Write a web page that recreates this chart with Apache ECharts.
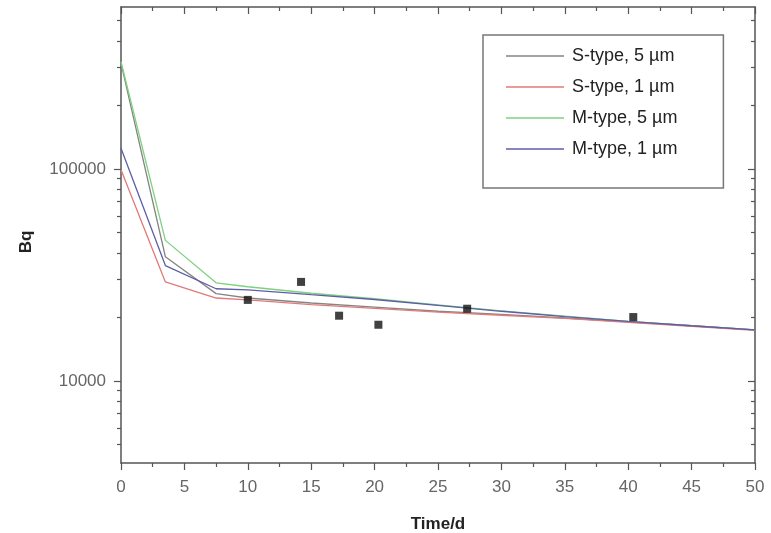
<!DOCTYPE html>
<html>
<head>
<meta charset="utf-8">
<script src="https://cdn.jsdelivr.net/npm/echarts@6/dist/echarts.min.js"></script>
<style>html,body{margin:0;padding:0;background:#fff}#c{width:771px;height:533px}</style>
</head>
<body>
<div id="c"></div>
<script>
const days = [0, 3.5, 7.5, 10, 15, 20, 25, 30, 35, 40, 45, 50];
const sType5 = [315000, 38500, 25800, 24600, 23300, 22300, 21300, 20600, 19800, 19000, 18200, 17400];
const sType1 = [99000, 29300, 24600, 24100, 22900, 22000, 21100, 20400, 19700, 18900, 18100, 17300];
const mType5 = [320000, 46000, 29000, 27800, 25900, 24400, 22800, 21400, 20200, 19100, 18200, 17400];
const mType1 = [125000, 35000, 27200, 26900, 25500, 24200, 22700, 21300, 20100, 19100, 18200, 17400];
const measDays = [10, 14.2, 17.2, 20.3, 27.3, 40.4];
const measBq = [24100, 29300, 20300, 18400, 21900, 20000];
const seriesNames = ['S-type, 5 \u00b5m', 'S-type, 1 \u00b5m', 'M-type, 5 \u00b5m', 'M-type, 1 \u00b5m'];
const majorY = [10000, 100000];
const minorY = [5000, 6000, 7000, 8000, 9000, 20000, 30000, 40000, 50000, 60000, 70000, 80000, 90000, 200000, 300000, 400000, 500000];
const xTicks = {min: 0, max: 50, interval: 5};
const yRange = {min: 4100, max: 580000};

const axisColor = '#555';
const font = 'Liberation Sans, Arial, sans-serif';
const colors = ['#858585', '#e07a7a', '#7fd07f', '#5e5ea8'];

function pairs(xs, ys) { return xs.map((x, i) => [x, ys[i]]); }

function yAx(opts) {
  return Object.assign({
    type: 'log', logBase: 10, min: yRange.min, max: yRange.max,
    axisLine: {show: false}, splitLine: {show: false},
    axisLabel: {show: false}, axisTick: {show: false}
  }, opts);
}

const chart = echarts.init(document.getElementById('c'));
chart.setOption({
  animation: false,
  backgroundColor: '#fff',
  color: colors,
  grid: {left: 121, right: 16, top: 7, bottom: 70, containLabel: false, outerBoundsMode: 'none'},
  legend: {
    orient: 'vertical', left: 483, top: 35,
    data: seriesNames,
    icon: 'rect', itemWidth: 58, itemHeight: 1.5, itemGap: 13,
    padding: [12, 46, 30, 23],
    borderColor: '#777', borderWidth: 1.5, backgroundColor: '#fff',
    textStyle: {fontFamily: font, fontSize: 18, color: '#222', padding: [0, 0, 0, 3]}
  },
  xAxis: [
    {type: 'value', min: xTicks.min, max: xTicks.max, interval: xTicks.interval, position: 'bottom',
     name: 'Time/d', nameLocation: 'middle', nameGap: 53,
     nameTextStyle: {fontFamily: font, fontSize: 17, fontWeight: 'bold', color: '#222'},
     axisLine: {show: true, lineStyle: {color: axisColor, width: 1.5}},
     axisTick: {show: true, length: 7, lineStyle: {color: axisColor, width: 1.2}},
     minorTick: {show: true, splitNumber: 2, length: 4, lineStyle: {color: axisColor, width: 1.2}},
     axisLabel: {fontFamily: font, fontSize: 17, color: '#666', margin: 16},
     splitLine: {show: false}},
    {type: 'value', min: xTicks.min, max: xTicks.max, interval: xTicks.interval, position: 'top',
     axisLine: {show: true, lineStyle: {color: axisColor, width: 1.5}},
     axisTick: {show: true, inside: true, length: 7, lineStyle: {color: axisColor, width: 1.2}},
     minorTick: {show: true, splitNumber: 2, length: 4, lineStyle: {color: axisColor, width: 1.2}},
     axisLabel: {show: false}, splitLine: {show: false}}
  ],
  yAxis: [
    yAx({position: 'left', name: 'Bq', nameLocation: 'middle', nameGap: 86,
         nameTextStyle: {fontFamily: font, fontSize: 17, fontWeight: 'bold', color: '#222', padding: [0, 14, 0, 0]},
         axisLine: {show: true, lineStyle: {color: axisColor, width: 1.5}},
         axisTick: {show: true, length: 7, customValues: majorY, lineStyle: {color: axisColor, width: 1.2}},
         axisLabel: {show: true, customValues: majorY, fontFamily: font, fontSize: 17, color: '#666', margin: 15,
                     formatter: v => String(Math.round(v))}}),
    yAx({position: 'left',
         axisTick: {show: true, length: 4, customValues: minorY, lineStyle: {color: axisColor, width: 1.2}}}),
    yAx({position: 'right',
         axisLine: {show: true, lineStyle: {color: axisColor, width: 1.5}},
         axisTick: {show: true, inside: true, length: 7, customValues: majorY, lineStyle: {color: axisColor, width: 1.2}}}),
    yAx({position: 'right',
         axisTick: {show: true, inside: true, length: 4, customValues: minorY, lineStyle: {color: axisColor, width: 1.2}}})
  ],
  series: [
    {name: seriesNames[0], type: 'line', data: pairs(days, sType5), showSymbol: false, lineStyle: {width: 1.3}, z: 2},
    {name: seriesNames[1], type: 'line', data: pairs(days, sType1), showSymbol: false, lineStyle: {width: 1.3}, z: 3},
    {name: seriesNames[2], type: 'line', data: pairs(days, mType5), showSymbol: false, lineStyle: {width: 1.3}, z: 2},
    {name: seriesNames[3], type: 'line', data: pairs(days, mType1), showSymbol: false, lineStyle: {width: 1.3}, z: 3},
    {name: 'Measured', type: 'scatter', data: pairs(measDays, measBq), symbol: 'rect', symbolSize: 8,
     itemStyle: {color: '#111'}, z: 5}
  ]
});
</script>
</body>
</html>
